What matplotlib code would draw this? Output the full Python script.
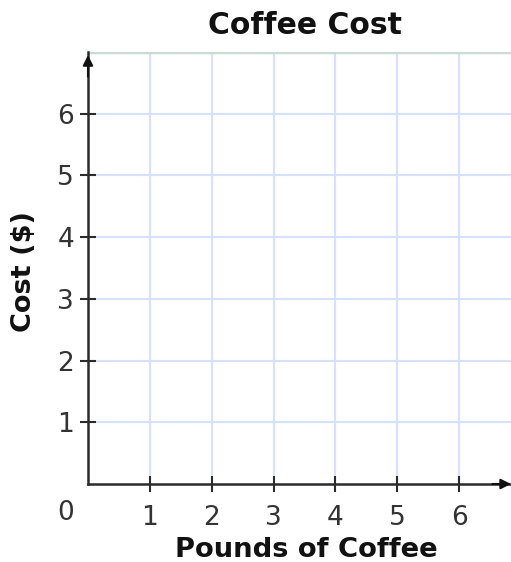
import numpy as np
import matplotlib.pyplot as plt

title = "Coffee Cost"
x_label = "Pounds of Coffee"
y_label = "Cost ($)"
x_ticks = [1, 2, 3, 4, 5, 6]
y_ticks = [1, 2, 3, 4, 5, 6]
x_max = 6.84
y_max = 7

fig = plt.figure(figsize=(5.11, 5.62), dpi=100)
ax = fig.add_axes([88/511, 78/562, 1 - 88/511, (484-52)/562])

ax.set_xlim(0, x_max)
ax.set_ylim(0, y_max)

grid_color = '#d6e0ff'
for x in x_ticks:
    ax.axvline(x, color=grid_color, lw=1.5, zorder=0)
for y in y_ticks:
    ax.axhline(y, color=grid_color, lw=1.5, zorder=0)
ax.axhline(y_max, color='#c9dbd3', lw=2.5, zorder=0)

for s in ['top', 'right']:
    ax.spines[s].set_visible(False)
for s in ['left', 'bottom']:
    ax.spines[s].set_color('#2b2b2b')
    ax.spines[s].set_linewidth(1.8)

ax.set_xticks(x_ticks)
ax.set_yticks(y_ticks)
ax.tick_params(direction='inout', length=12, width=1.5, color='#2b2b2b',
               labelsize=19, labelcolor='#333333')
ax.tick_params(axis='x', pad=9)
ax.tick_params(axis='y', pad=4)

# arrows
ax.annotate('', xy=(x_max, 0), xytext=(x_max - 0.3, 0),
            arrowprops=dict(arrowstyle='-|>', color='#111111', lw=1.5,
                            mutation_scale=15, shrinkA=0, shrinkB=0),
            annotation_clip=False)
ax.annotate('', xy=(0, 6.95), xytext=(0, 6.6),
            arrowprops=dict(arrowstyle='-|>', color='#111111', lw=1.5,
                            mutation_scale=15, shrinkA=0, shrinkB=0),
            annotation_clip=False)

fig.text(66/511, 1 - 513/562, '0', fontsize=19, color='#333333',
         ha='center', va='center')

fig.text(305/511, 1 - 26/562, title, fontsize=21.5, fontweight='bold',
         ha='center', va='center', color='#111111')
fig.text(306/511, 1 - 550/562, x_label, fontsize=19.7, fontweight='bold',
         ha='center', va='center', color='#111111')
fig.text(24/511, 1 - 272/562, y_label, fontsize=19.5, fontweight='bold',
         ha='center', va='center', rotation=90, color='#111111')

fig.savefig('out.png', dpi=100)
